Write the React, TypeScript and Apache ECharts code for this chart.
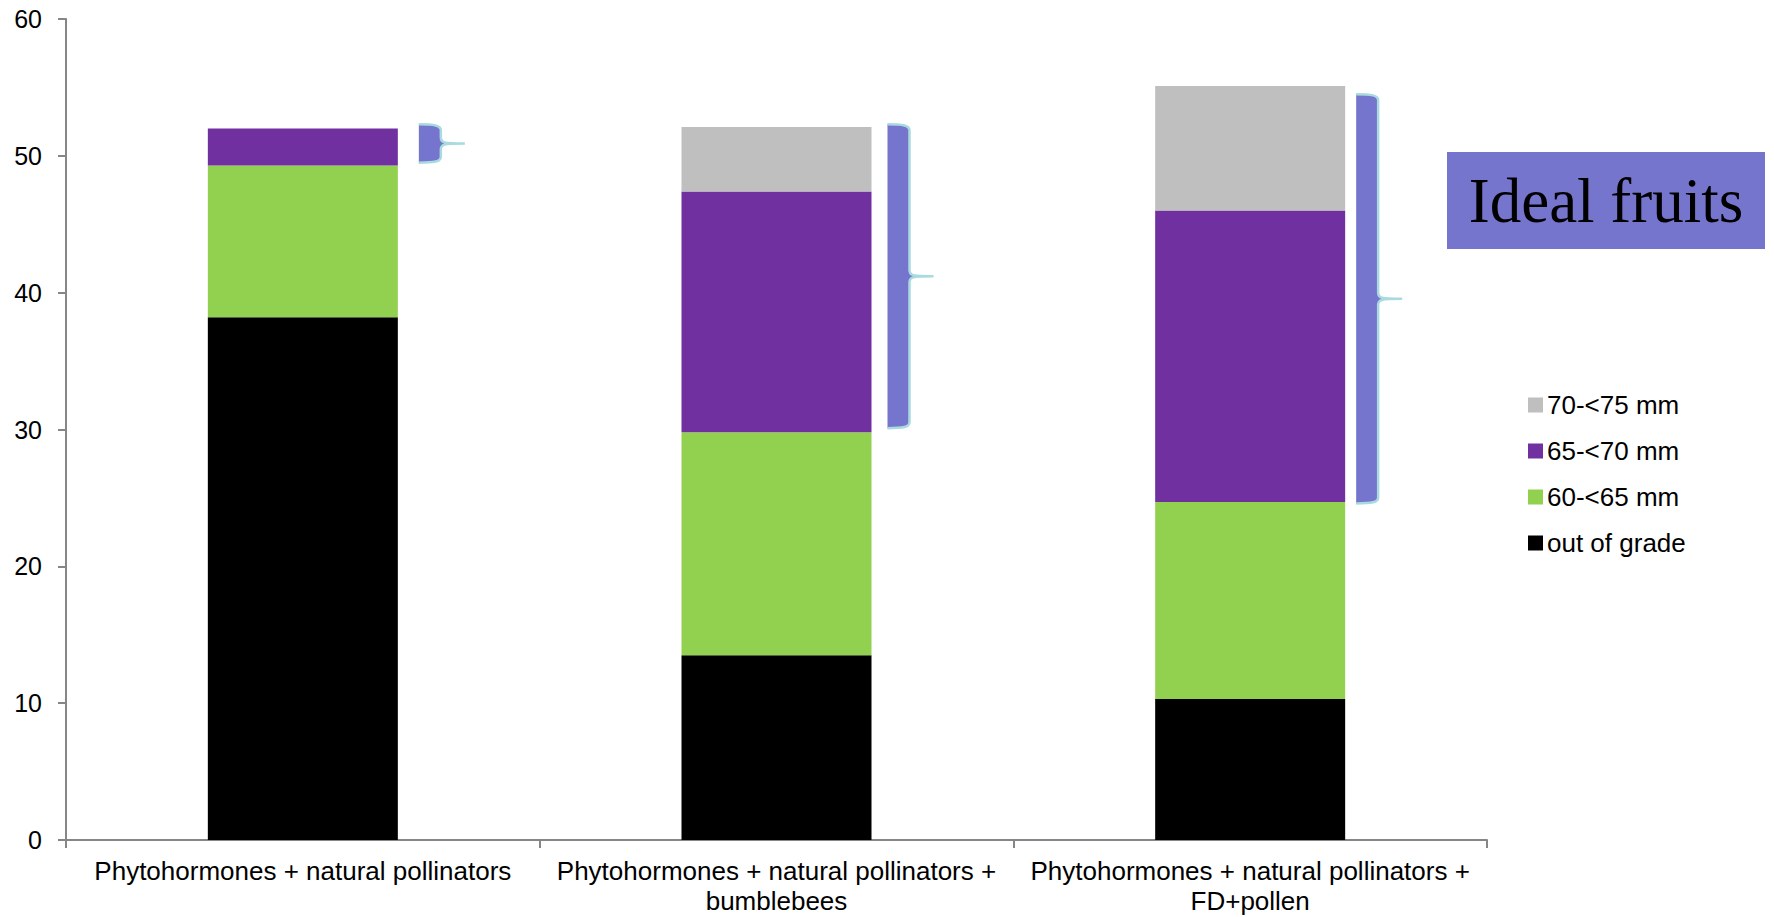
import React, { useEffect, useRef } from "react";
import * as echarts from "echarts";

const categories = [
  "Phytohormones + natural pollinators",
  "Phytohormones + natural pollinators + bumblebees",
  "Phytohormones + natural pollinators + FD+pollen",
];
const xTickLabels = [
  "Phytohormones + natural pollinators",
  "Phytohormones + natural pollinators +\nbumblebees",
  "Phytohormones + natural pollinators +\nFD+pollen",
];
const seriesNames = ["out of grade", "60-<65 mm", "65-<70 mm", "70-<75 mm"];
const outOfGrade = [38.2, 13.5, 10.3];
const mm60to65 = [11.1, 16.3, 14.4];
const mm65to70 = [2.7, 17.6, 21.3];
const mm70to75 = [0, 4.7, 9.1];
const legendOrder = ["70-<75 mm", "65-<70 mm", "60-<65 mm", "out of grade"];
// braces: [category index, low value, high value]
const braceRanges = [
  [0, 49.5, 52.3],
  [1, 30.1, 52.3],
  [2, 24.6, 54.5],
];
const annotationText = "Ideal fruits";
const yTicks = [0, 10, 20, 30, 40, 50, 60];

// styling constants
const COLORS = ["#000000", "#92D050", "#7030A0", "#BFBFBF"];
const BRACE_FILL = "#7675CE";
const BRACE_STROKE = "#A8DADF";
const braceOffsets = [116, 111, 106];
const FONT = "'Liberation Sans', Arial, sans-serif";

function bracePath(x0: number, yT: number, yB: number, w: number, t: number, r: number) {
  const ym = (yT + yB) / 2;
  const xr = x0 + w;
  const edge =
    `M${x0},${yT} C${x0 + w * 0.7},${yT} ${xr},${yT + 1} ${xr},${yT + r} ` +
    `L${xr},${ym - r} C${xr},${ym - 1} ${xr + 2},${ym} ${xr + t},${ym} ` +
    `C${xr + 2},${ym} ${xr},${ym + 1} ${xr},${ym + r} ` +
    `L${xr},${yB - r} C${xr},${yB - 1} ${x0 + w * 0.7},${yB} ${x0},${yB}`;
  return { edge, fill: edge + " Z" };
}

export default function App() {
  const ref = useRef<HTMLDivElement>(null);
  useEffect(() => {
    if (!ref.current) return;
    const chart = echarts.init(ref.current, undefined, { renderer: "svg" });
    const values = [outOfGrade, mm60to65, mm65to70, mm70to75];
    const barSeries = seriesNames.map((name, i) => ({
      name,
      type: "bar",
      stack: "total",
      barWidth: 190,
      data: values[i],
      itemStyle: { color: COLORS[i] },
      emphasis: { disabled: true },
    }));
    const option: any = {
      animation: false,
      backgroundColor: "#ffffff",
      grid: { left: 66, right: 287, top: 19, bottom: 77, containLabel: false },
      legend: {
        data: legendOrder,
        orient: "vertical",
        left: 1523,
        top: 387,
        padding: 5,
        itemWidth: 15,
        itemHeight: 15,
        itemGap: 20,
        icon: "rect",
        selectedMode: false,
        textStyle: { fontFamily: FONT, fontSize: 26, lineHeight: 25, color: "#000", padding: [0, 0, 0, -1] },
      },
      xAxis: {
        type: "category",
        data: categories,
        axisLine: { show: true, lineStyle: { color: "#868686", width: 2 } },
        axisTick: { show: true, length: 8, lineStyle: { color: "#868686", width: 2 } },
        axisLabel: {
          interval: 0,
          margin: 16,
          fontFamily: FONT,
          fontSize: 26,
          lineHeight: 30,
          color: "#000",
          align: "center",
          formatter: (_v: string, idx: number) => xTickLabels[idx],
        },
        splitLine: { show: false },
      },
      yAxis: {
        type: "value",
        min: yTicks[0],
        max: yTicks[yTicks.length - 1],
        interval: 10,
        axisLine: { show: true, lineStyle: { color: "#868686", width: 2 } },
        axisTick: { show: true, length: 8, lineStyle: { color: "#868686", width: 2 } },
        axisLabel: { margin: 24, fontFamily: FONT, fontSize: 25, color: "#000" },
        splitLine: { show: false },
      },
      series: [
        ...barSeries,
        {
          name: "braces",
          type: "custom",
          silent: true,
          z: 5,
          data: braceRanges,
          encode: { x: 0, y: [1, 2] },
          renderItem: (params: any, api: any) => {
            const idx = api.value(0);
            const top = api.coord([idx, api.value(2)]);
            const bot = api.coord([idx, api.value(1)]);
            const x0 = top[0] + braceOffsets[params.dataIndex];
            const p = bracePath(x0, top[1], bot[1], 22, 24, 6);
            return {
              type: "group",
              children: [
                { type: "path", shape: { pathData: p.fill }, style: { fill: BRACE_FILL, stroke: "none" } },
                {
                  type: "path",
                  shape: { pathData: p.edge },
                  style: { fill: "none", stroke: BRACE_STROKE, lineWidth: 2.5 },
                },
              ],
            };
          },
        },
      ],
      graphic: [
        {
          type: "rect",
          left: 1447,
          top: 152,
          shape: { width: 318, height: 97 },
          style: { fill: BRACE_FILL },
          silent: true,
        },
        {
          type: "text",
          x: 1606,
          y: 201,
          style: {
            text: annotationText,
            fontFamily: "'Liberation Serif', 'Times New Roman', serif",
            fontSize: 63,
            fill: "#000",
            align: "center",
            verticalAlign: "middle",
          },
          silent: true,
        },
      ],
    };
    chart.setOption(option);
    return () => chart.dispose();
  }, []);
  return (
    <div
      ref={ref}
      style={{ position: "fixed", left: 0, top: 0, width: 1774, height: 917, background: "#fff" }}
    />
  );
}
